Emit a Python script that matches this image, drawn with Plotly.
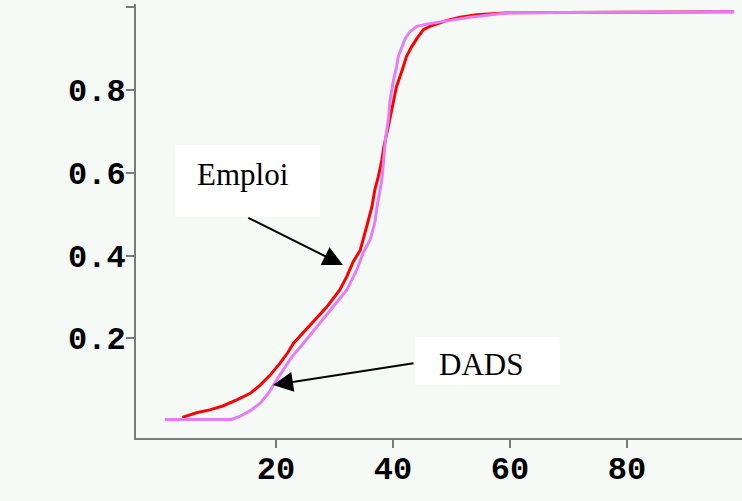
import plotly.graph_objects as go

# Cumulative distribution curves (x: value, y: cumulative share)
emploi_x = [4.0, 6.4, 8.7, 11.0, 13.3, 15.6, 17.3, 19.0, 20.7, 22.0, 23.0, 25.8,
            28.7, 30.9, 32.1, 33.2, 34.4, 35.5, 36.4, 36.9, 37.5, 38.1, 38.4,
            39.2, 39.8, 40.6, 41.6, 42.3, 43.2, 44.1, 45.2, 46.3, 49.2, 51.5,
            54.3, 59.7, 98.3]
emploi_y = [0.009, 0.020, 0.027, 0.037, 0.051, 0.067, 0.087, 0.111, 0.140, 0.165,
            0.188, 0.232, 0.276, 0.317, 0.349, 0.385, 0.413, 0.470, 0.518, 0.559,
            0.591, 0.631, 0.660, 0.712, 0.752, 0.808, 0.849, 0.881, 0.905, 0.925,
            0.946, 0.954, 0.968, 0.976, 0.982, 0.987, 0.989]

dads_x = [1.0, 12.4, 13.9, 15.6, 17.3, 18.7, 20.1, 21.5, 22.7, 24.7, 27.5, 30.4,
          32.1, 33.8, 34.9, 36.1, 36.9, 37.3, 37.6, 38.1, 38.4, 38.7, 39.2, 39.5,
          40.1, 40.6, 40.9, 41.5, 42.1, 42.9, 44.1, 46.0, 48.6, 53.2, 59.7, 98.3]
dads_y = [0.004, 0.004, 0.012, 0.025, 0.043, 0.067, 0.099, 0.131, 0.155, 0.188,
          0.236, 0.285, 0.317, 0.365, 0.406, 0.438, 0.480, 0.520, 0.545, 0.583,
          0.631, 0.680, 0.728, 0.776, 0.825, 0.855, 0.881, 0.905, 0.925, 0.941,
          0.954, 0.960, 0.966, 0.976, 0.987, 0.989]

x_ticks = [20, 40, 60, 80]
y_ticks = [0.2, 0.4, 0.6, 0.8, 1.0]
y_tick_text = ["0.2", "0.4", "0.6", "0.8", ""]

BG = "#F5FAF7"
AXIS = "#7A7A7A"

fig = go.Figure()
fig.add_trace(go.Scatter(x=emploi_x, y=emploi_y, mode="lines", name="Emploi",
                         line=dict(color="#FF0000", width=3)))
fig.add_trace(go.Scatter(x=dads_x, y=dads_y, mode="lines", name="DADS",
                         line=dict(color="#E47EF7", width=3)))

tick_font = dict(family="Liberation Mono", size=32, color="black", weight="bold")

fig.update_xaxes(range=[-3.93, 99.66], tickvals=x_ticks, ticks="outside", ticklen=8,
                 tickwidth=2, tickcolor=AXIS, showline=True, linecolor=AXIS,
                 linewidth=2, showgrid=False, zeroline=False, tickfont=tick_font,
                 ticklabelstandoff=-7)
fig.update_yaxes(range=[-0.041, 1.008], tickvals=y_ticks, ticktext=y_tick_text,
                 ticks="outside", ticklen=8, tickwidth=2, tickcolor=AXIS,
                 showline=True, linecolor=AXIS, linewidth=2, showgrid=False,
                 zeroline=False, tickfont=tick_font, ticklabelstandoff=-6)

# White label boxes
label_boxes = [
    dict(x0=2.74, x1=27.5, y0=0.493, y1=0.667),
    dict(x0=43.8, x1=68.5, y0=0.087, y1=0.203),
]
for b in label_boxes:
    fig.add_shape(type="rect", xref="x", yref="y", layer="above",
                  fillcolor="white", line=dict(width=0), **b)

label_font = dict(family="Liberation Serif", size=31, color="black")
fig.add_annotation(x=6.15, y=0.595, text="Emploi", showarrow=False,
                   xanchor="left", yanchor="middle", font=label_font)
fig.add_annotation(x=47.5, y=0.136, text="DADS", showarrow=False,
                   xanchor="left", yanchor="middle", font=label_font)

# Pointer arrows
fig.add_annotation(x=31.45, y=0.377, ax=15.0, ay=0.493, axref="x", ayref="y",
                   xref="x", yref="y", text="", showarrow=True, arrowhead=2,
                   arrowwidth=2, arrowsize=2.0, arrowcolor="black")
fig.add_annotation(x=19.49, y=0.087, ax=43.76, ay=0.140, axref="x", ayref="y",
                   xref="x", yref="y", text="", showarrow=True, arrowhead=2,
                   arrowwidth=2, arrowsize=2.0, arrowcolor="black")

fig.update_layout(width=742, height=501, margin=dict(l=136, r=0, t=4, b=63),
                  paper_bgcolor=BG, plot_bgcolor=BG, showlegend=False)

fig.write_html("out.html")
